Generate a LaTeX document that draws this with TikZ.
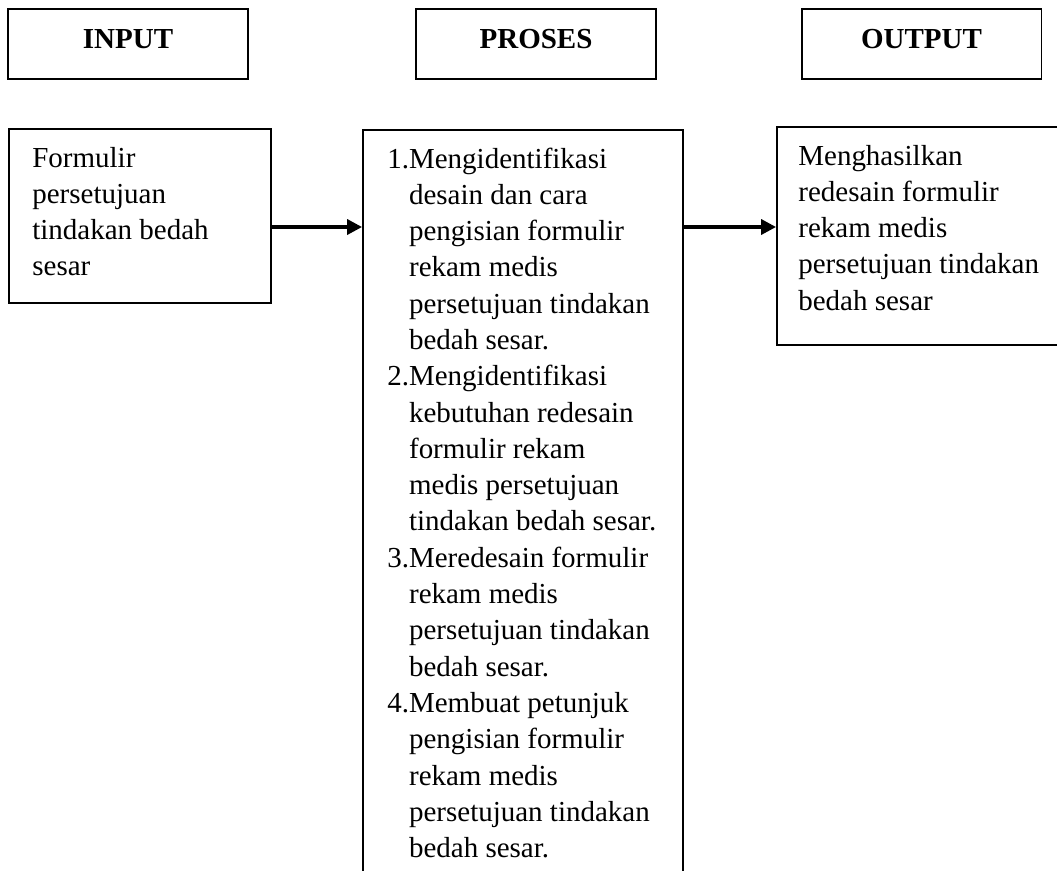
\documentclass[tikz,border=0pt]{standalone}
\usepackage{fontspec}
\setmainfont{Liberation Serif}
\usetikzlibrary{arrows.meta}

\tikzset{
  kepala/.style={draw, line width=1.1pt, minimum width=4.8cm, minimum height=1.4cm,
    text height=0.42cm, text depth=0.26cm,
    font=\bfseries\fontsize{16.5pt}{20.66pt}\selectfont},
  kotak/.style={draw, line width=1.1pt},
  isi/.style={inner sep=0pt, anchor=base west,
    font=\fontsize{16.5pt}{20.66pt}\selectfont},
  panah/.style={-{Triangle[length=8.5pt,width=8.5pt]}, line width=2pt}
}

\begin{document}
\begin{tikzpicture}[x=0.02cm, y=-0.02cm]
    \useasboundingbox (0,0) rectangle (1057,870);
    \clip (0,0) rectangle (1057,870);
    % judul kolom
    \node[kepala] (hinput) at (128,44) {INPUT};
    \node[kepala] (hproses) at (536,44) {PROSES};
    \node[kepala] (houtput) at (921.5,44) {OUTPUT};
    % kotak isi
    \node[kotak, minimum width=5.24cm, minimum height=3.48cm] (inbox) at (140,216) {};
    \node[kotak, minimum width=6.4cm, minimum height=15.4cm] (probox) at (523,515) {};
    \node[kotak, minimum width=5.96cm, minimum height=4.36cm] (outbox) at (926,236) {};
    \node[isi] (intext) at (32,167) {\begin{tabular}[t]{@{}l@{}}
      Formulir\\ persetujuan\\ tindakan bedah\\ sesar
    \end{tabular}};
    \node[isi] (protext) at (387,168) {\begin{tabular}[t]{@{}l@{}l@{}}
      1.& Mengidentifikasi\\ & desain dan cara\\ & pengisian formulir\\
        & rekam medis\\ & persetujuan tindakan\\ & bedah sesar.\\
      2.& Mengidentifikasi\\ & kebutuhan redesain\\ & formulir rekam\\
        & medis persetujuan\\ & tindakan bedah sesar.\\
      3.& Meredesain formulir\\ & rekam medis\\ & persetujuan tindakan\\
        & bedah sesar.\\
      4.& Membuat petunjuk\\ & pengisian formulir\\ & rekam medis\\
        & persetujuan tindakan\\ & bedah sesar.
    \end{tabular}};
    \node[isi] (outtext) at (798,165) {\begin{tabular}[t]{@{}l@{}}
      Menghasilkan\\ redesain formulir\\ rekam medis\\
      persetujuan tindakan\\ bedah sesar
    \end{tabular}};
    % panah
    \coordinate (tinggi) at (0,227);
    \draw[panah] (inbox.east |- tinggi) -- (probox.west |- tinggi);
    \draw[panah] (probox.east |- tinggi) -- (outbox.west |- tinggi);
\end{tikzpicture}
\end{document}
